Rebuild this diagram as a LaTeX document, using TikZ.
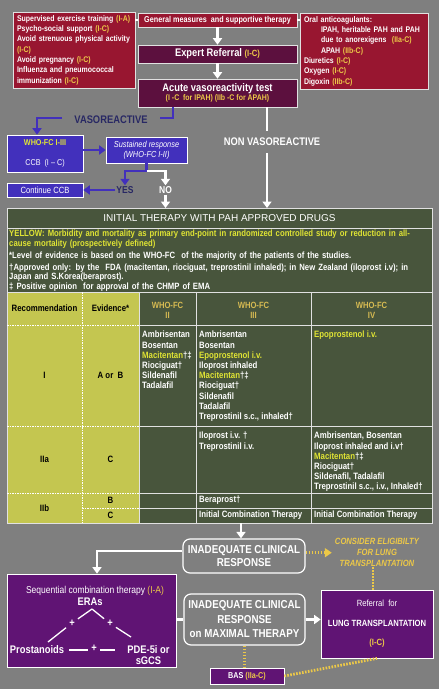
\documentclass[tikz,border=0pt]{standalone}
\usepackage{fontspec}
\setmainfont{Liberation Sans}[FakeStretch=0.85]
\newfontfamily\widefont{Liberation Sans}
\usetikzlibrary{arrows.meta, positioning, calc}
\definecolor{bggray}{RGB}{127,127,127}
\definecolor{boxred}{RGB}{152,22,48}
\definecolor{boxplum}{RGB}{92,16,62}
\definecolor{boxblue}{RGB}{66,48,188}
\definecolor{boxpurple}{RGB}{96,20,116}
\definecolor{tabgreen}{RGB}{72,85,60}
\definecolor{tabyellow}{RGB}{196,198,80}
\definecolor{codeyellow}{RGB}{236,200,72}
\definecolor{hlyellow}{RGB}{224,228,52}
\definecolor{fcgold}{RGB}{214,186,82}
\definecolor{navytext}{RGB}{40,40,100}
\definecolor{edgegray}{RGB}{225,225,225}
\newcommand{\lvl}[1]{\textcolor{codeyellow}{#1}}
\newcommand{\drughl}[1]{\textcolor{hlyellow}{#1}}
\tikzset{
  redbox/.style={rectangle, draw=edgegray, fill=boxred, text=white, inner sep=0pt, line width=0.6pt, font=\bfseries\fontsize{8.2}{10.3}\selectfont},
  plumbox/.style={rectangle, draw=edgegray, fill=boxplum, text=white, inner sep=0pt, line width=0.6pt, align=center, font=\bfseries\fontsize{11}{12}\selectfont},
  bluebox/.style={rectangle, draw=white, fill=boxblue, text=white, inner sep=0pt, line width=0.6pt, align=center, font=\fontsize{8.5}{10.3}\selectfont},
  purplebox/.style={rectangle, draw=white, fill=boxpurple, text=white, inner sep=0pt, line width=0.7pt, align=center, font=\bfseries\fontsize{9}{11}\selectfont},
  roundbox/.style={rectangle, draw=white, fill=bggray, text=white, rounded corners=7pt, line width=1.2pt, inner sep=0pt, align=center, font=\bfseries\fontsize{11.5}{13.5}\selectfont},
  labeltext/.style={inner sep=1pt, font=\bfseries\fontsize{11}{13}\selectfont},
  tabhead/.style={text=white, inner sep=0pt, font=\widefont\fontsize{10}{12}\selectfont},
  notetext/.style={text=white, inner sep=0pt, text width=422pt, align=left, font=\bfseries\fontsize{9.1}{9.4}\selectfont},
  tabbold/.style={text=black, inner sep=0pt, align=center, font=\bfseries\fontsize{9.2}{11}\selectfont},
  fchead/.style={text=fcgold, inner sep=0pt, align=center, font=\bfseries\fontsize{9}{10}\selectfont},
  drugtext/.style={text=white, inner sep=0pt, align=left, font=\bfseries\fontsize{9.2}{10.2}\selectfont},
  combo/.style={text=white, font=\bfseries\fontsize{11}{11}\selectfont},
  plus/.style={text=white, inner sep=3pt, font=\bfseries\fontsize{11}{11}\selectfont},
  tabline/.style={draw=edgegray, line width=0.8pt},
  tabdots/.style={draw=white, line width=0.9pt, dash pattern=on 1.5pt off 1pt},
  thinlink/.style={draw=white, line width=1.2pt},
  whiteline/.style={draw=white, line width=2.8pt},
  whitearrow/.style={draw=white, line width=2.8pt, -{Triangle[width=9pt,length=6.5pt]}},
  blueline/.style={draw=boxblue, line width=2.8pt},
  bluearrow/.style={draw=boxblue, line width=2.8pt, -{Triangle[width=9pt,length=6.5pt]}},
  comboline/.style={draw=white, line width=1.3pt},
  yellowdots/.style={draw=codeyellow, line width=2.8pt, dash pattern=on 1.6pt off 1.4pt},
  yellowarrow/.style={yellowdots, -{Triangle[width=9pt,length=7pt]}}
}

\begin{document}
\begin{tikzpicture}[x=1pt, y=-1pt]
  % Background
  \fill[bggray] (0,0) rectangle (439,689);
  \useasboundingbox (0,0) rectangle (439,689);

  % General measures and supportive therapy
  \node[redbox, minimum width=122, minimum height=76, text width=114, align=left] (lifestyle) at (74,50) {Supervised exercise training \lvl{(I-A)}\\Psycho-social support \lvl{(I-C)}\\Avoid strenuous physical activity\\\lvl{(I-C)}\\Avoid pregnancy \lvl{(I-C)}\\Influenza and pneumococcal\\immunization \lvl{(I-C)}};
  \node[redbox, minimum width=159, minimum height=14, font=\bfseries\fontsize{8.5}{10}\selectfont] (general) at (217.5,20) {General measures \ and supportive therapy};
  \node[redbox, minimum width=128, minimum height=76, text width=120, align=left] (supportive) at (364,51) {Oral anticoagulants:\\\hspace*{17pt}IPAH, heritable PAH and PAH\\\hspace*{17pt}due to anorexigens \ \lvl{(IIa-C)}\\\hspace*{17pt}APAH \lvl{(IIb-C)}\\Diuretics \lvl{(I-C)}\\Oxygen \lvl{(I-C)}\\Digoxin \lvl{(IIb-C)}};
  \draw[thinlink] (general.west) -- (general.west -| lifestyle.east);
  \draw[thinlink] (general.east) -- (general.east -| supportive.west);

  % Referral and vasoreactivity
  \node[plumbox, minimum width=159, minimum height=18] (expert) at (217.5,54) {Expert Referral \lvl{\fontsize{9}{11}\selectfont(I-C)}};
  \node[plumbox, minimum width=159, minimum height=28] (acute) at (217.5,93) {Acute vasoreactivity test\\[-2.5pt]{\fontsize{8.2}{9}\selectfont\lvl{(I -C \ for IPAH) (IIb -C for APAH)}}};
  \draw[whitearrow] (general) -- (expert);
  \draw[whitearrow] (expert) -- (acute);

  % Vasoreactive branch
  \node[labeltext, text=navytext] (vaso) at (111,120) {VASOREACTIVE};
  \node[bluebox, minimum width=76, minimum height=37] (whofc) at (45,153.5) {\textbf{\drughl{WHO-FC I-III}}\\[9.7pt]CCB \ (I -- C)};
  \node[bluebox, minimum width=81, minimum height=26, font=\itshape\fontsize{8.7}{9.5}\selectfont] (sustained) at (146.5,150) {Sustained response\\(WHO-FC I-II)};
  \node[bluebox, minimum width=76, minimum height=14, font=\fontsize{9}{10}\selectfont] (continue) at (45,190) {Continue CCB};
  \node[labeltext, text=navytext, font=\bfseries\fontsize{10}{12}\selectfont] (yes) at (125,190) {YES};
  \node[labeltext, text=white, font=\bfseries\fontsize{10}{12}\selectfont] (no) at (165.5,190) {NO};
  \coordinate (vasostart) at ([xshift=-44.5]acute.south);
  \draw[blueline] (vasostart) |- ([xshift=11,yshift=2]vaso.east);
  \draw[bluearrow] ([xshift=-11,yshift=2]vaso.west) -| ([xshift=-8]whofc.north);
  \draw[bluearrow] (whofc.east |- sustained.west) -- (sustained.west);
  \coordinate (yesbend) at (125,171);
  \coordinate (nobend) at (165.5,171);
  \draw[bluearrow] (sustained.south) |- (yesbend) -- (yes.north);
  \draw[whitearrow] (sustained.south |- yesbend) -- (nobend) -- (no.north);
  \draw[bluearrow] (yes.west) -- (yes.west -| continue.east);

  % Non vasoreactive branch
  \coordinate (tabtop) at (219.5,208);
  \coordinate (nonstart) at ([xshift=49.5]acute.south);
  \node[labeltext, text=white, inner ysep=7pt] (nonvaso) at (272,142) {NON VASOREACTIVE};
  \draw[whiteline] (nonstart) -- (nonstart |- nonvaso.north);
  \draw[whitearrow] (nonstart |- nonvaso.south) -- (nonstart |- tabtop);
  \draw[whitearrow] (no.south) -- (no.south |- tabtop);

  % Table of approved drugs
  \fill[tabgreen] (7,208) rectangle (432,523);
  \fill[tabyellow] (7,292) rectangle (139,523);
  \draw[tabline] (7,208) rectangle (432,523);
  \draw[tabline] (7,228) -- (432,228);
  \draw[tabline] (7,292) -- (432,292);
  \foreach \ry in {325,426,493} {
    \draw[tabdots] (7,\ry) -- (139,\ry);
    \draw[tabline] (139,\ry) -- (432,\ry);
  }
  \draw[tabdots] (82,508) -- (139,508);
  \draw[tabline] (139,508) -- (432,508);
  \draw[tabdots] (82,292) -- (82,523);
  \foreach \cx in {139,196,311} \draw[tabline] (\cx,292) -- (\cx,523);

  \node[tabhead] (tabtitle) at (219.5,218) {INITIAL THERAPY WITH PAH APPROVED DRUGS};
  \node[notetext, anchor=north west] (notes) at (9,230) {{\color{hlyellow}YELLOW: Morbidity and mortality as primary end-point in randomized controlled study or reduction in all-\\cause mortality (prospectively defined)}\\[2.8pt]*Level of evidence is based on the WHO-FC \ of the majority of the patients of the studies.\\[2.8pt]\textdagger Approved only: by the \ FDA (macitentan, riociguat, treprostinil inhaled); in New Zealand (iloprost i.v); in\\Japan and S.Korea(beraprost).\\\textdaggerdbl{} Positive opinion \ for approval of the CHMP of EMA};

  \node[tabbold] (hrec) at (44.5,308.5) {Recommendation};
  \node[tabbold] (hevi) at (110.5,308.5) {Evidence*};
  \node[fchead] (hfcII) at (167.5,310) {WHO-FC\\II};
  \node[fchead] (hfcIII) at (253.5,310) {WHO-FC\\III};
  \node[fchead] (hfcIV) at (371.5,310) {WHO-FC\\IV};

  \node[tabbold] (recI) at (44.5,375.5) {I};
  \node[tabbold] (eviI) at (110.5,375.5) {A or \ B};
  \node[tabbold] (recIIa) at (44.5,459.5) {IIa};
  \node[tabbold] (eviIIa) at (110.5,459.5) {C};
  \node[tabbold] (recIIb) at (44.5,508) {IIb};
  \node[tabbold] (eviB) at (110.5,500.5) {B};
  \node[tabbold] (eviC) at (110.5,515.5) {C};

  \node[drugtext, anchor=north west] (drugIfcII) at (142,331) {Ambrisentan\\Bosentan\\\drughl{Macitentan}\textdagger\textdaggerdbl\\Riociguat\textdagger\\Sildenafil\\Tadalafil};
  \node[drugtext, anchor=north west] (drugIfcIII) at (199,331) {Ambrisentan\\Bosentan\\\drughl{Epoprostenol i.v.}\\Iloprost inhaled\\\drughl{Macitentan}\textdagger\textdaggerdbl\\Riociguat\textdagger\\Sildenafil\\Tadalafil\\Treprostinil s.c., inhaled\textdagger};
  \node[drugtext, anchor=north west] (drugIfcIV) at (314,331) {\drughl{Epoprostenol i.v.}};
  \node[drugtext, anchor=north west] (drugIIafcIII) at (199,432) {Iloprost i.v. \textdagger\\Treprostinil i.v.};
  \node[drugtext, anchor=north west] (drugIIafcIV) at (314,432) {Ambrisentan, Bosentan\\Iloprost inhaled and i.v\textdagger\\\drughl{Macitentan}\textdagger\textdaggerdbl\\Riociguat\textdagger\\Sildenafil, Tadalafil\\Treprostinil s.c., i.v., Inhaled\textdagger};
  \node[drugtext, anchor=west] (drugIIbB) at (199,500.5) {Beraprost\textdagger};
  \node[drugtext, anchor=west] (drugIIbCIII) at (199,515.5) {Initial Combination Therapy};
  \node[drugtext, anchor=west] (drugIIbCIV) at (314,515.5) {Initial Combination Therapy};

  % Inadequate response
  \coordinate (tabbot) at (241,523);
  \node[roundbox, minimum width=122, minimum height=34] (inad) at (244,556) {INADEQUATE CLINICAL\\RESPONSE};
  \node[roundbox, minimum width=121, minimum height=51, font=\bfseries\fontsize{11.5}{14.5}\selectfont] (maxinad) at (244.5,619.5) {INADEQUATE CLINICAL\\RESPONSE\\on MAXIMAL THERAPY};
  \draw[whitearrow] (tabbot) -- (tabbot |- inad.north);

  % Sequential combination therapy
  \node[purplebox, minimum width=169, minimum height=93] (seq) at (91.5,620.5) {};
  \node[text=white, inner sep=0pt, font=\fontsize{10}{12}\selectfont] (seqtitle) at (95,590.5) {Sequential combination therapy \lvl{(I-A)}};
  \node[combo, inner sep=1pt] (eras) at (90,601.5) {ERAs};
  \node[combo, inner xsep=5pt] (prost) at (37,650) {Prostanoids};
  \node[combo, align=center, inner xsep=12pt, font=\bfseries\fontsize{11}{11}\selectfont] (pde) at (148.5,655.5) {PDE-5i or\\sGCS};
  \node[plus] (plusl) at (72,623) {+};
  \node[plus] (plusr) at (110,623.5) {+};
  \node[plus, inner xsep=3.5pt] (plusb) at (94,648.5) {+};
  \coordinate (apex) at (92,609);
  \coordinate (prostend) at (48,642);
  \coordinate (pdeend) at (131,637);
  \draw[comboline] (apex) -- (plusl) -- (prostend);
  \draw[comboline] (apex) -- (plusr) -- (pdeend);
  \draw[comboline] (prost.east) -- (prost.east -| plusb.west);
  \draw[comboline] (prost.east -| plusb.east) -- (prost.east -| pde.west);
  \draw[whitearrow] ([yshift=5]inad.west) -| ([xshift=5.5]seq.north);
  \draw[whiteline] (seq.east |- maxinad) -- (maxinad.west);

  % Lung transplantation
  \node[text=codeyellow, inner sep=0pt, align=center, font=\bfseries\itshape\fontsize{9}{11}\selectfont] (consider) at (377,552.7) {CONSIDER ELIGIBILTY\\FOR LUNG\\TRANSPLANTATION};
  \node[purplebox, minimum width=112, minimum height=68] (referral) at (377,624) {\mdseries Referral \ for\\[8.5pt]LUNG TRANSPLANTATION\\[8.5pt]\lvl{(I-C)}};
  \node[purplebox, minimum width=74, minimum height=16, font=\bfseries\fontsize{8.5}{10}\selectfont] (bas) at (247,676) {BAS \lvl{(IIa-C)}};
  \draw[yellowarrow] (inad.east |- consider.west) -- ([xshift=-3]consider.west);
  \draw[yellowdots] ([xshift=-4]consider.south) -- ([xshift=-4]consider.south |- referral.north);
  \draw[whitearrow] (maxinad.east) -- (maxinad.east -| referral.west);
  \draw[yellowdots] (maxinad.south) -- (maxinad.south |- bas.north);
  \draw[yellowdots] (bas.east) -- (referral.south);
\end{tikzpicture}
\end{document}
